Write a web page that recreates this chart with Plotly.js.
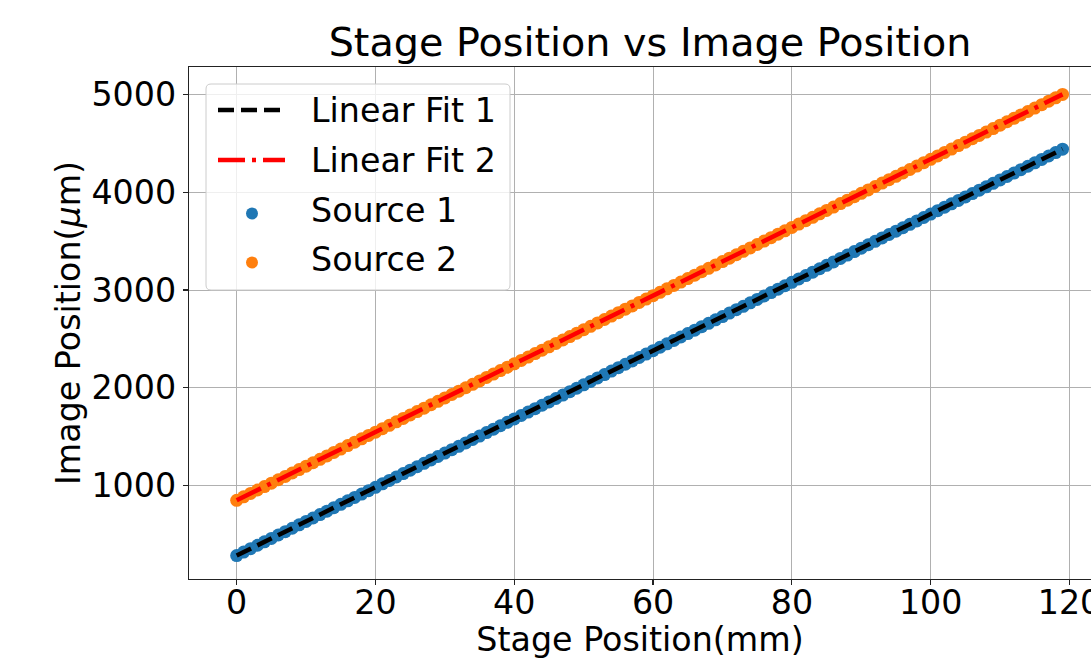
<!DOCTYPE html>
<html>
<head>
<meta charset="utf-8">
<script src="https://cdn.plot.ly/plotly-3.0.1.min.js"></script>
<style>html,body{margin:0;padding:0;background:#fff;overflow:hidden}</style>
</head>
<body>
<div id="chart" style="width:1091px;height:659px"></div>
<script>
// ---- data ----
const stagePos = [0,1,2,3,4,5,6,7,8,9,10,11,12,13,14,15,16,17,18,19,
  20,21,22,23,24,25,26,27,28,29,30,31,32,33,34,35,36,37,38,39,
  40,41,42,43,44,45,46,47,48,49,50,51,52,53,54,55,56,57,58,59,
  60,61,62,63,64,65,66,67,68,69,70,71,72,73,74,75,76,77,78,79,
  80,81,82,83,84,85,86,87,88,89,90,91,92,93,94,95,96,97,98,99,
  100,101,102,103,104,105,106,107,108,109,110,111,112,113,114,115,116,117,118,119];
const source1 = [285,320,355,390,425,460,495,529,564,599,634,669,704,739,774,809,844,879,914,948,
  983,1018,1053,1088,1123,1158,1193,1228,1263,1298,1333,1368,1402,1437,1472,1507,1542,1577,1612,1647,
  1682,1717,1752,1787,1822,1856,1891,1926,1961,1996,2031,2066,2101,2136,2171,2206,2241,2275,2310,2345,
  2380,2415,2450,2485,2520,2555,2590,2625,2660,2695,2729,2764,2799,2834,2869,2904,2939,2974,3009,3044,
  3079,3114,3148,3183,3218,3253,3288,3323,3358,3393,3428,3463,3498,3533,3568,3602,3637,3672,3707,3742,
  3777,3812,3847,3882,3917,3952,3987,4021,4056,4091,4126,4161,4196,4231,4266,4301,4336,4371,4406,4441];
const source2 = [850,885,920,955,990,1025,1060,1094,1129,1164,1199,1234,1269,1304,1339,1374,1409,1444,1479,1513,
  1547,1582,1617,1652,1687,1722,1757,1792,1827,1862,1897,1932,1966,2001,2036,2071,2106,2141,2176,2211,
  2245,2280,2315,2350,2385,2419,2454,2489,2524,2559,2594,2629,2664,2699,2734,2769,2804,2838,2873,2908,
  2942,2977,3012,3047,3082,3117,3152,3187,3222,3257,3291,3326,3361,3396,3431,3466,3501,3536,3571,3606,
  3640,3675,3709,3744,3779,3814,3849,3884,3919,3954,3989,4024,4059,4094,4129,4163,4198,4233,4268,4303,
  4337,4372,4407,4442,4477,4512,4547,4581,4616,4651,4686,4721,4756,4791,4826,4861,4896,4931,4966,5001];
const fitX = [0, 119];
const fit1 = [285, 4441];
const fit2 = [850, 5001];
const seriesNames = ["Linear Fit 1", "Linear Fit 2", "Source 1", "Source 2"];
const xTicks = [0, 20, 40, 60, 80, 100, 120];
const yTicks = [1000, 2000, 3000, 4000, 5000];
const xTitle = "Stage Position(mm)";
const yTitle = "Image Position(<i>μ</i>m)";
const chartTitle = "Stage Position vs Image Position";

// ---- styling ----
const FONT = "DejaVu Sans";
const FS = 33.3;
const AX = "#222222";
const BLUE = "#1f77b4", ORANGE = "#ff7f0e";
const DASH1 = "16px,7px", DASH2 = "27px,7px,4px,7px";
const L = 189, R = 1091, T = 67, B = 579, W = 1091, H = 659;
const pxX = x => (x - L) / (R - L);
const pxY = y => (B - y) / (B - T);

const traces = [
  {x: stagePos, y: source1, type: "scatter", mode: "markers", name: seriesNames[2],
   marker: {color: BLUE, size: 13}, showlegend: false},
  {x: stagePos, y: source2, type: "scatter", mode: "markers", name: seriesNames[3],
   marker: {color: ORANGE, size: 13}, showlegend: false},
  {x: fitX, y: fit1, type: "scatter", mode: "lines", name: seriesNames[0],
   line: {color: "#000000", width: 4.5, dash: DASH1}, showlegend: false},
  {x: fitX, y: fit2, type: "scatter", mode: "lines", name: seriesNames[1],
   line: {color: "#ff0000", width: 4.5, dash: DASH2}, showlegend: false}
];

// custom legend (matplotlib style)
const lx0 = 206, lx1 = 510, ly0 = 84, ly1 = 290, rr = 5;
const rx = rr / (R - L), ry = rr / (B - T);
const X0 = pxX(lx0), X1 = pxX(lx1), Y0 = pxY(ly0), Y1 = pxY(ly1);
const boxPath = `M ${X0+rx},${Y0} L ${X1-rx},${Y0} Q ${X1},${Y0} ${X1},${Y0-ry} L ${X1},${Y1+ry} Q ${X1},${Y1} ${X1-rx},${Y1} L ${X0+rx},${Y1} Q ${X0},${Y1} ${X0},${Y1+ry} L ${X0},${Y0-ry} Q ${X0},${Y0} ${X0+rx},${Y0} Z`;
const rowY = [110, 160, 210, 259];
const shapes = [
  {type: "path", xref: "paper", yref: "paper", path: boxPath, layer: "above",
   fillcolor: "rgba(255,255,255,0.8)", line: {color: "#cccccc", width: 1}},
  {type: "line", xref: "paper", yref: "paper", x0: pxX(218), x1: pxX(285), y0: pxY(rowY[0]), y1: pxY(rowY[0]),
   layer: "above", line: {color: "#000000", width: 4.5, dash: DASH1}},
  {type: "line", xref: "paper", yref: "paper", x0: pxX(218), x1: pxX(285), y0: pxY(rowY[1]), y1: pxY(rowY[1]),
   layer: "above", line: {color: "#ff0000", width: 4.5, dash: DASH2}},
  {type: "circle", xref: "paper", yref: "paper", x0: pxX(246), x1: pxX(258), y0: pxY(rowY[2]+9.5), y1: pxY(rowY[2]-2.5),
   layer: "above", fillcolor: BLUE, line: {width: 0}},
  {type: "circle", xref: "paper", yref: "paper", x0: pxX(246), x1: pxX(258), y0: pxY(rowY[3]+9.5), y1: pxY(rowY[3]-2.5),
   layer: "above", fillcolor: ORANGE, line: {width: 0}}
];

const annotations = seriesNames.map((n, i) => ({
  text: n, xref: "paper", yref: "paper", x: pxX(309), y: pxY(rowY[i]),
  xanchor: "left", yanchor: "middle", showarrow: false,
  font: {family: FONT, size: FS, color: "#000000"}
}));
annotations.push({
  text: yTitle, xref: "paper", yref: "paper", x: pxX(68), y: pxY(323),
  xanchor: "center", yanchor: "middle", textangle: -90, showarrow: false,
  font: {family: FONT, size: FS, color: "#000000"}
});

const layout = {
  width: W, height: H,
  margin: {l: L, r: W - R, t: T, b: H - B, pad: 0},
  paper_bgcolor: "#ffffff", plot_bgcolor: "#ffffff",
  font: {family: FONT, size: FS, color: "#000000"},
  title: {text: chartTitle, font: {family: FONT, size: 39.7, color: "#000000"},
          x: 650 / W, xref: "container", xanchor: "center", y: 1 - 42.6 / H, yref: "container", yanchor: "middle"},
  xaxis: {range: [-6.87, 123.1], tickvals: xTicks, ticktext: xTicks.map(String),
          showgrid: true, gridcolor: "#b0b0b0", gridwidth: 1,
          showline: true, linecolor: AX, linewidth: 1.2, mirror: true,
          ticks: "outside", ticklen: 5, tickwidth: 1.2, tickcolor: AX,
          ticklabelstandoff: -11, ticklabeloverflow: "allow",
          zeroline: false, tickfont: {family: FONT, size: FS, color: "#000000"},
          title: {text: xTitle, font: {family: FONT, size: FS, color: "#000000"}}},
  yaxis: {range: [45, 5281], tickvals: yTicks, ticktext: yTicks.map(String),
          showgrid: true, gridcolor: "#b0b0b0", gridwidth: 1,
          showline: true, linecolor: AX, linewidth: 1.2,
          ticks: "outside", ticklen: 5, tickwidth: 1.2, tickcolor: AX,
          zeroline: false, tickfont: {family: FONT, size: FS, color: "#000000"}},
  showlegend: false,
  shapes: shapes,
  annotations: annotations
};

Plotly.newPlot("chart", traces, layout, {displayModeBar: false, staticPlot: true});
</script>
</body>
</html>
